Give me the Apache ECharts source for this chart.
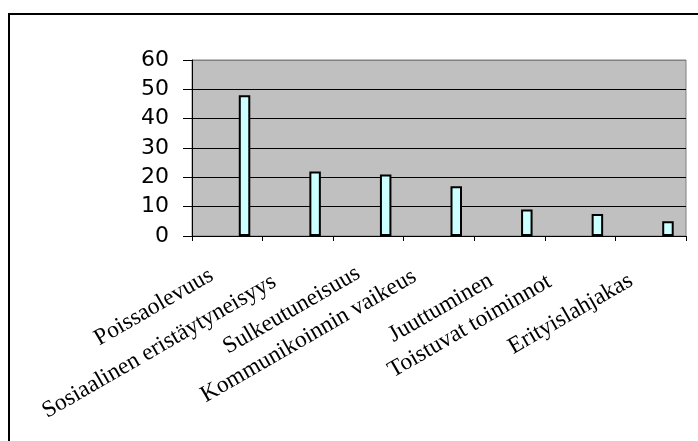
<!DOCTYPE html>
<html>
<head>
<meta charset="utf-8">
<script src="https://cdn.jsdelivr.net/npm/echarts@6/dist/echarts.min.js"></script>
<style>
html,body{margin:0;padding:0;background:#fff;}
#c{width:698px;height:441px;}
</style>
</head>
<body>
<div id="c"></div>
<script>
var categories = ["Poissaolevuus","Sosiaalinen eristäytyneisyys","Sulkeutuneisuus","Kommunikoinnin vaikeus","Juuttuminen","Toistuvat toiminnot","Erityislahjakas"];
var values = [48, 22, 21, 17, 9, 7.5, 5];
var yTicks = [0, 10, 20, 30, 40, 50, 60];

// per-label nudges [top, right] to mimic the original's label placement
var labelPadTop = [10, 13, 12, 3, 16, 6, 15];
var labelPadRight = [21, 31, 15, 29, 26, 37, 27];
var rich = {};
categories.forEach(function(c, i){
  rich['p' + i] = {fontFamily:'"Liberation Serif","Times New Roman",serif', fontSize:23.5, color:'#000',
    padding:[labelPadTop[i], labelPadRight[i], 0, 0]};
});

var chart = echarts.init(document.getElementById('c'), null, {renderer:'canvas'});
chart.setOption({
  backgroundColor:'#ffffff',
  animation:false,
  graphic:[{
    type:'rect', shape:{x:9, y:14, width:720, height:460},
    style:{fill:'none', stroke:'#000', lineWidth:2}, z:100
  }],
  grid:{left:192, top:60, width:494, height:176, show:true, backgroundColor:'#C0C0C0', borderColor:'#808080', borderWidth:1},
  xAxis:{
    type:'category', data:categories,
    axisLine:{show:true, lineStyle:{color:'#000', width:1}},
    axisTick:{show:true, alignWithLabel:false, length:5, lineStyle:{color:'#000'}},
    axisLabel:{interval:0, rotate:30, margin:23, color:'#000',
      fontFamily:'"Liberation Serif","Times New Roman",serif', fontSize:23.5,
      formatter:function(v, i){ return '{p' + i + '|' + v + '}'; }, rich:rich},
    splitLine:{show:false}
  },
  yAxis:{
    type:'value', min:yTicks[0], max:yTicks[yTicks.length-1], interval:10,
    axisLine:{show:true, lineStyle:{color:'#000', width:1}},
    axisTick:{show:true, length:9, lineStyle:{color:'#000'}},
    axisLabel:{margin:23, color:'#000', fontFamily:'"DejaVu Sans",sans-serif', fontSize:22},
    splitLine:{show:true, lineStyle:{color:['#000','#000','#000','#000','#000','#000','#808080'], width:1}}
  },
  series:[
    {type:'bar', data:values.map(function(){return '-';}), barWidth:11.5},
    {type:'bar', data:values, barWidth:11.5, barGap:'200%',
     itemStyle:{color:'#CCFFFF', borderColor:'#000', borderWidth:2}}
  ]
});
</script>
</body>
</html>
